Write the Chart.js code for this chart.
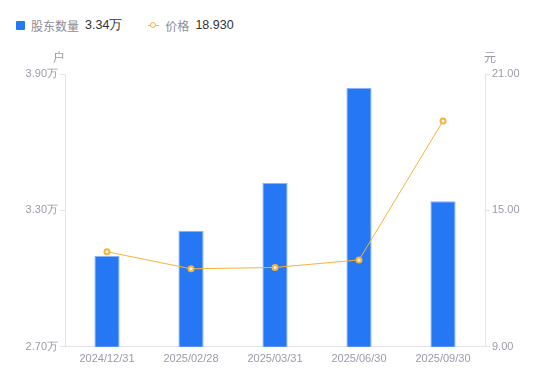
<!DOCTYPE html>
<html>
<head>
<meta charset="utf-8">
<script src="https://cdn.jsdelivr.net/npm/chart.js@4/dist/chart.umd.min.js"></script>
<style>
  html, body { margin: 0; padding: 0; background: #fff; }
  #wrap { position: relative; width: 550px; height: 381px; }
  #legend {
    position: absolute; left: 16px; top: 15px; height: 20px;
    font-family: "Noto Sans CJK SC", "Liberation Sans", sans-serif; font-size: 12px;
    display: flex; align-items: center; color: #8c8c99;
  }
  #legend .item { display: flex; align-items: center; margin-right: 26px; }
  #legend .val { color: #333; margin-left: 6px; font-family: "Liberation Sans", Arial, sans-serif; font-size: 12.5px; }
  .box { width: 9px; height: 9px; background: #2577f4; border-radius: 1px; margin-right: 6px; }
  .lm { position: relative; width: 11px; height: 9px; margin-right: 6px; }
  .lm:before { content: ""; position: absolute; left: 0; right: 0; top: 4px; height: 1px; background: #f7b23b; }
  .lm:after { content: ""; position: absolute; left: 2px; top: 1px; width: 4px; height: 4px; border: 1.5px solid #f7b23b; border-radius: 50%; background: #fff; }
  canvas { position: absolute; left: 0; top: 0; }
</style>
</head>
<body>
<div id="wrap">
  <div id="legend">
    <div class="item"><span class="box"></span>股东数量<span class="val">3.34万</span></div>
    <div class="item"><span class="lm"></span>价格<span class="val">18.930</span></div>
  </div>
  <canvas id="chart" width="550" height="381"></canvas>
</div>
<script>
const categories = ["2024/12/31", "2025/02/28", "2025/03/31", "2025/06/30", "2025/09/30"];
const holders = [3.10, 3.21, 3.42, 3.84, 3.34];   // 万户
const prices = [13.18, 12.43, 12.49, 12.82, 18.93]; // 元
const leftTicks = [2.70, 3.30, 3.90];
const rightTicks = [9.00, 15.00, 21.00];

const labelColor = "#9b9ba8";
const axisColor = "#e3e3e8";
const numFont = { family: "'Liberation Sans', Arial, sans-serif", size: 11 };

const unitTitles = {
    id: "unitTitles",
    afterDraw(chart) {
        const ctx = chart.ctx;
        const area = chart.chartArea;
        ctx.save();
        ctx.font = "12px 'Noto Sans CJK SC', sans-serif";
        ctx.fillStyle = labelColor;
        ctx.textBaseline = "middle";
        ctx.textAlign = "center";
        ctx.fillText("户", area.left - 6, 57);
        ctx.fillText("元", area.right + 5, 57);
        ctx.restore();
    }
};

new Chart(document.getElementById("chart"), {
    data: {
        labels: categories,
        datasets: [
            {
                type: "line",
                label: "价格",
                data: prices,
                yAxisID: "y1",
                borderColor: "#f7b23b",
                borderWidth: 1,
                pointRadius: 2.5,
                pointBorderWidth: 2,
                pointBackgroundColor: "#fff",
                pointBorderColor: "#f7b23b",
                tension: 0,
                order: 0
            },
            {
                type: "bar",
                label: "股东数量",
                data: holders,
                yAxisID: "y",
                backgroundColor: "#2577f4",
                borderColor: "#8ab4f7",
                borderWidth: { top: 1, left: 1, right: 1, bottom: 0 },
                borderSkipped: false,
                barPercentage: 0.6,
                categoryPercentage: 0.5,
                order: 1
            }
        ]
    },
    options: {
        responsive: false,
        animation: false,
        layout: { padding: { top: 74, left: 0, right: 0, bottom: 9 } },
        plugins: { legend: { display: false }, tooltip: { enabled: false } },
        scales: {
            x: {
                grid: { display: false, drawTicks: false },
                border: { color: axisColor },
                ticks: { color: labelColor, font: numFont, padding: 6, maxRotation: 0 }
            },
            y: {
                position: "left",
                min: 2.7,
                max: 3.9,
                afterBuildTicks: s => { s.ticks = leftTicks.map(v => ({ value: v })); },
                afterFit: s => { s.width = 65; },
                grid: { display: true, drawOnChartArea: false, drawTicks: true, tickLength: 5, color: axisColor },
                border: { color: axisColor },
                ticks: { color: labelColor, font: numFont, padding: 2, callback: v => v.toFixed(2) + "万" }
            },
            y1: {
                position: "right",
                min: 9,
                max: 21,
                afterBuildTicks: s => { s.ticks = rightTicks.map(v => ({ value: v })); },
                afterFit: s => { s.width = 65; },
                grid: { display: true, drawOnChartArea: false, drawTicks: true, tickLength: 5, color: axisColor },
                border: { color: axisColor },
                ticks: { color: labelColor, font: numFont, padding: 2, callback: v => v.toFixed(2) }
            }
        }
    },
    plugins: [unitTitles]
});
</script>
</body>
</html>
